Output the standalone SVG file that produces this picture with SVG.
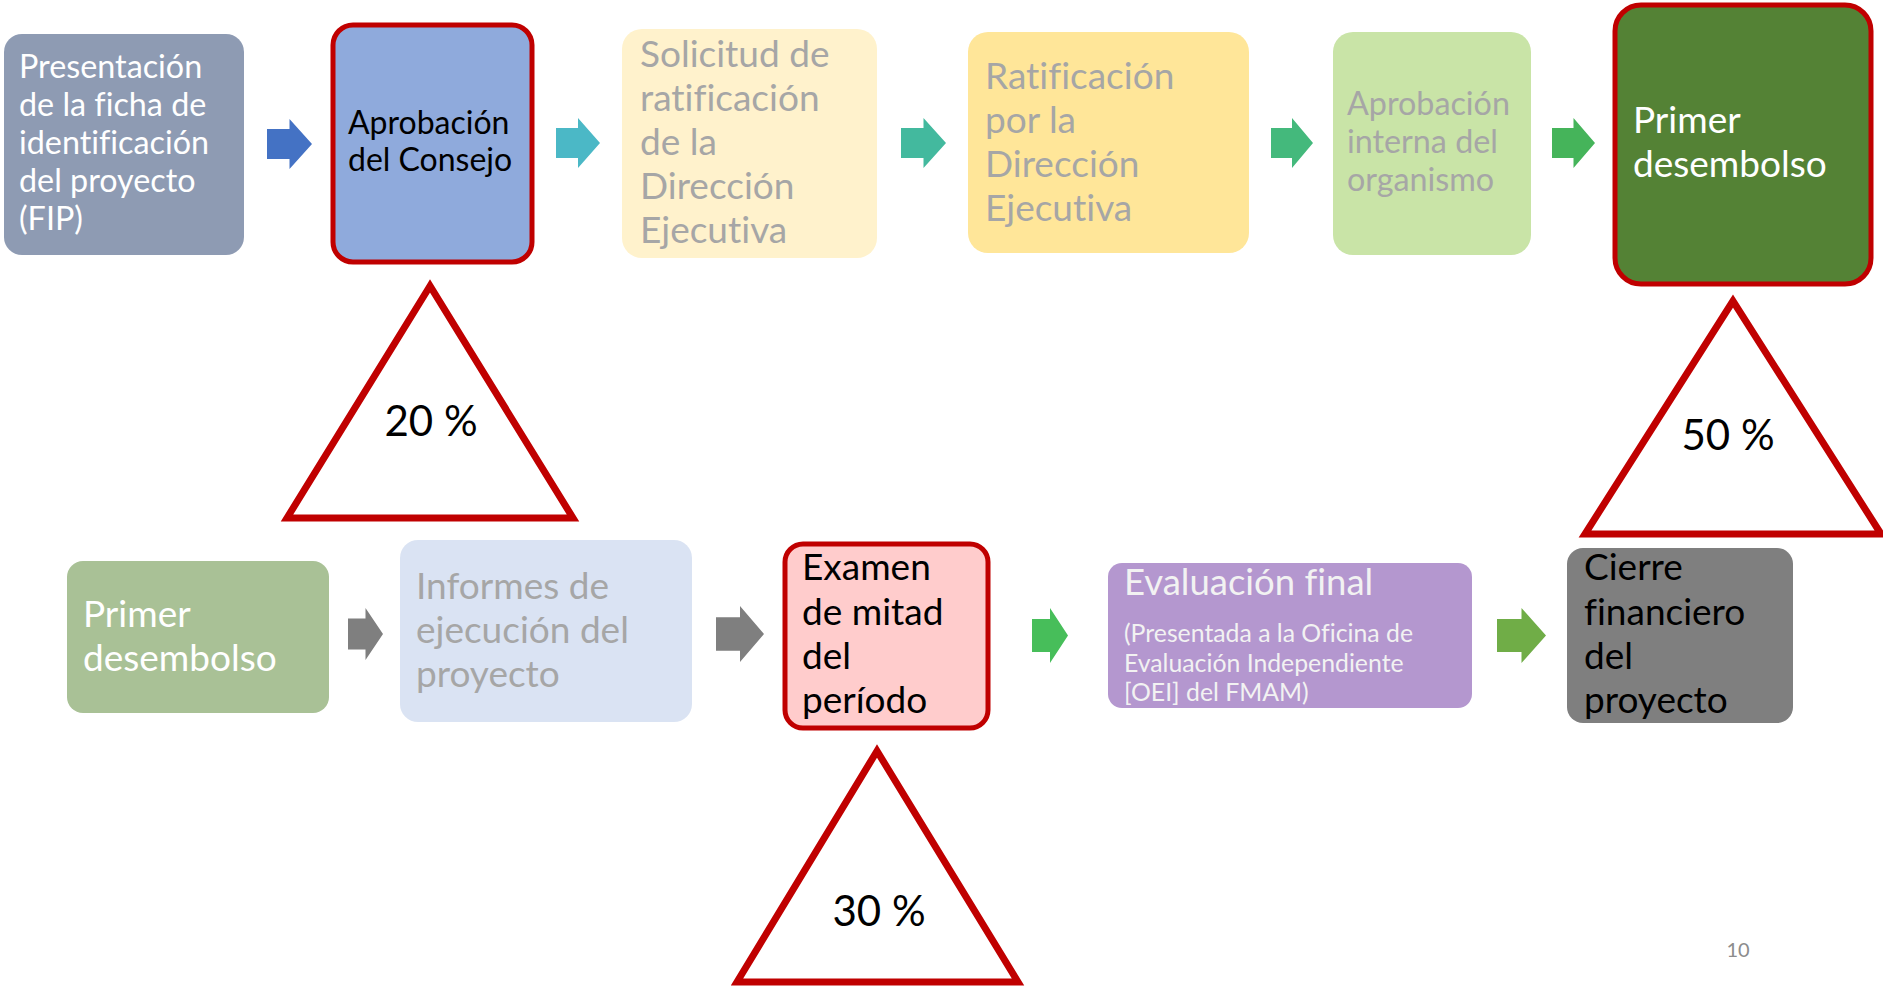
<svg xmlns="http://www.w3.org/2000/svg" xmlns:xlink="http://www.w3.org/1999/xlink" width="1883" height="987" viewBox="0 0 1883 987">
<style>
text { font-family: Lato, "Liberation Sans", sans-serif; font-variant-ligatures: none; font-feature-settings: "liga" 0, "clig" 0; }
.hl { stroke: #C00000; stroke-width: 5; }
.tri { fill: #FFFFFF; stroke: #C00000; stroke-width: 7; stroke-linejoin: miter; }
.w { fill: #FFFFFF; }
.g { fill: #A6A6A6; }
.k { fill: #000000; }
.pct { font-size: 42px; fill: #000000; text-anchor: middle; }
</style>
<defs>
<path id="arr" d="M0,0.2 H0.5 V0 L1,0.5 L0.5,1 V0.8 H0 Z"/>
</defs>
<rect width="1883" height="987" fill="#FFFFFF"/>

<g id="connectors">
<use xlink:href="#arr" transform="translate(267,119) scale(45,50)" fill="#4472C4"/>
<use xlink:href="#arr" transform="translate(556,118) scale(44,50)" fill="#4BB8C6"/>
<use xlink:href="#arr" transform="translate(901,118) scale(45,50)" fill="#43B99E"/>
<use xlink:href="#arr" transform="translate(1271,118) scale(42,50)" fill="#44B97C"/>
<use xlink:href="#arr" transform="translate(1552,118) scale(43,50)" fill="#45B45A"/>
<use xlink:href="#arr" transform="translate(348,608) scale(35,52)" fill="#7F7F7F"/>
<use xlink:href="#arr" transform="translate(716,606) scale(48,56)" fill="#7F7F7F"/>
<use xlink:href="#arr" transform="translate(1032,608) scale(36,55)" fill="#47BE5A"/>
<use xlink:href="#arr" transform="translate(1497,608) scale(49,55)" fill="#70AD47"/>
</g>

<g id="n1">
<rect x="4" y="34" width="240" height="221" rx="18" fill="#8E9BB3"/>
<text class="w" font-size="32.3"><tspan x="19" y="78">Presentación</tspan><tspan x="19" y="116">de la ficha de</tspan><tspan x="19" y="154">identificación</tspan><tspan x="19" y="192">del proyecto</tspan><tspan x="19" y="230">(FIP)</tspan></text>
</g>

<g id="n2">
<rect x="333" y="25" width="199" height="237" rx="20" fill="#8FAADC" class="hl"/>
<text class="k" font-size="32"><tspan x="348" y="134">Aprobación</tspan><tspan x="348" y="171">del Consejo</tspan></text>
</g>

<g id="n3">
<rect x="622" y="29" width="255" height="229" rx="20" fill="#FFF2CC"/>
<text class="g" font-size="37"><tspan x="640" y="67">Solicitud de</tspan><tspan x="640" y="111">ratificación</tspan><tspan x="640" y="155">de la</tspan><tspan x="640" y="199">Dirección</tspan><tspan x="640" y="243">Ejecutiva</tspan></text>
</g>

<g id="n4">
<rect x="968" y="32" width="281" height="221" rx="20" fill="#FFE699"/>
<text class="g" font-size="37"><tspan x="985" y="89">Ratificación</tspan><tspan x="985" y="133">por la</tspan><tspan x="985" y="177">Dirección</tspan><tspan x="985" y="221">Ejecutiva</tspan></text>
</g>

<g id="n5">
<rect x="1333" y="32" width="198" height="223" rx="20" fill="#C9E4A7"/>
<text class="g" font-size="32.3"><tspan x="1347" y="115">Aprobación</tspan><tspan x="1347" y="153">interna del</tspan><tspan x="1347" y="191">organismo</tspan></text>
</g>

<g id="n6">
<rect x="1615" y="5" width="256" height="279" rx="26" fill="#548235" class="hl"/>
<text class="w" font-size="37"><tspan x="1633" y="133">Primer</tspan><tspan x="1633" y="177">desembolso</tspan></text>
</g>

<g id="t20">
<polygon class="tri" points="430,286 287,518 573,518"/>
<text class="pct" x="431" y="436">20 %</text>
</g>

<g id="t50">
<polygon class="tri" points="1733,301 1585,534 1881,534"/>
<text class="pct" x="1728" y="450">50 %</text>
</g>

<g id="t30">
<polygon class="tri" points="877,751 737,982 1018,982"/>
<text class="pct" x="879" y="926">30 %</text>
</g>

<g id="n7">
<rect x="67" y="561" width="262" height="152" rx="16" fill="#A9C196"/>
<text class="w" font-size="37"><tspan x="83" y="627">Primer</tspan><tspan x="83" y="671">desembolso</tspan></text>
</g>

<g id="n8">
<rect x="400" y="540" width="292" height="182" rx="18" fill="#DAE3F3"/>
<text class="g" font-size="37"><tspan x="416" y="599">Informes de</tspan><tspan x="416" y="643">ejecución del</tspan><tspan x="416" y="687">proyecto</tspan></text>
</g>

<g id="n9">
<rect x="785" y="544" width="203" height="184" rx="18" fill="#FFCCCC" class="hl"/>
<text class="k" font-size="37"><tspan x="802" y="580">Examen</tspan><tspan x="802" y="625">de mitad</tspan><tspan x="802" y="669">del</tspan><tspan x="802" y="713">período</tspan></text>
</g>

<g id="n10">
<rect x="1108" y="563" width="364" height="145" rx="14" fill="#B497CF"/>
<text fill="#F2F2F2" font-size="36.5" x="1124" y="595">Evaluación final</text>
<text fill="#F2F2F2" font-size="24.8"><tspan x="1124" y="642">(Presentada a la Oficina de</tspan><tspan x="1124" y="672">Evaluación Independiente</tspan><tspan x="1124" y="701">[OEI] del FMAM)</tspan></text>
</g>

<g id="n11">
<rect x="1567" y="548" width="226" height="175" rx="16" fill="#7F7F7F"/>
<text class="k" font-size="37"><tspan x="1584" y="580">Cierre</tspan><tspan x="1584" y="625">financiero</tspan><tspan x="1584" y="669">del</tspan><tspan x="1584" y="713">proyecto</tspan></text>
</g>

<text x="1738" y="957" font-size="20" fill="#8C8C8C" text-anchor="middle">10</text>
</svg>
